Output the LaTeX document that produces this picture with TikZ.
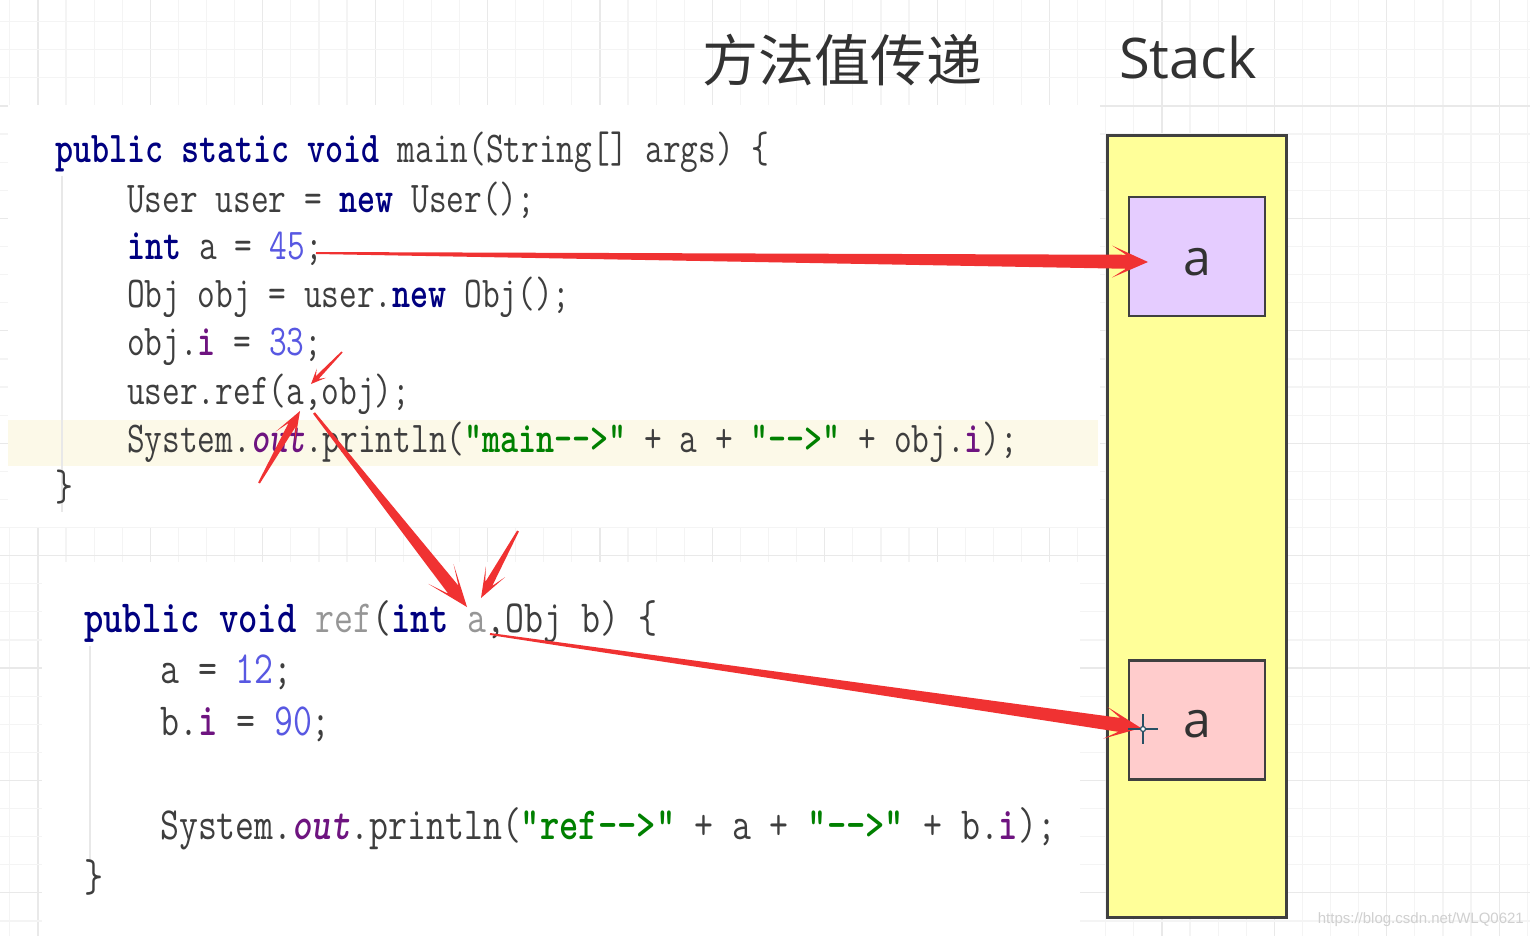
\documentclass[tikz,border=0pt]{standalone}
\usepackage{fontspec}
\usepackage{graphicx}
\usetikzlibrary{calc}
\newfontfamily\cjk{Noto Sans CJK SC}
\newfontfamily\osans{Open Sans}
\newfontfamily\lsans{Liberation Sans}
\definecolor{gridminor}{RGB}{244,244,244}
\definecolor{gridmajor}{RGB}{233,233,233}
\definecolor{plainc}{RGB}{62,62,62}
\definecolor{kwc}{RGB}{0,0,128}
\definecolor{numc}{RGB}{88,88,226}
\definecolor{strc}{RGB}{0,128,0}
\definecolor{fldc}{RGB}{110,20,128}
\definecolor{grc}{RGB}{150,150,150}
\definecolor{hlc}{RGB}{252,249,232}
\definecolor{guidec}{RGB}{232,232,232}
\definecolor{titlec}{RGB}{50,50,50}
\definecolor{stackfill}{RGB}{255,255,153}
\definecolor{boxborder}{RGB}{64,64,64}
\definecolor{purplebox}{RGB}{229,204,255}
\definecolor{pinkbox}{RGB}{255,204,204}
\definecolor{arrowred}{RGB}{240,50,50}
\definecolor{wmc}{RGB}{208,208,208}
\definecolor{cursorc}{RGB}{40,80,100}
\newcommand\kw[1]{\textcolor{kwc}{\bfseries #1}}
\newcommand\cn[1]{\textcolor{numc}{#1}}
\newcommand\cs[1]{\textcolor{strc}{\bfseries #1}}
\newcommand\cf[1]{\textcolor{fldc}{\bfseries #1}}
\newcommand\co[1]{\textcolor{fldc}{\bfseries\itshape #1}}
\newcommand\cg[1]{\textcolor{grc}{#1}}
\newcommand\ca[1]{\scalebox{0.781}[1]{#1}}
\newcommand\cb[1]{\scalebox{0.799}[1]{#1}}
\newcommand\redarrow[7]{%
  \coordinate (ja) at ($(#2)!#5!(#1)$);
  \coordinate (wa) at ($(#2)!#6!(#1)$);
  \fill[arrowred] ($(#1)!#3!90:(#2)$) -- ($(ja)!#4!90:(#2)$) -- ($(wa)!#7!90:(#2)$) -- (#2)
    -- ($(wa)!#7!-90:(#2)$) -- ($(ja)!#4!-90:(#2)$) -- ($(#1)!#3!-90:(#2)$) -- cycle;
}
\tikzset{
  codeA/.style={anchor=base west, inner sep=0pt, text=plainc, font=\ttfamily\fontsize{44}{48}\selectfont},
  codeB/.style={anchor=base west, inner sep=0pt, text=plainc, font=\ttfamily\fontsize{46}{50}\selectfont},
  slot/.style={draw=boxborder, line width=2.5pt, minimum width=136pt, minimum height=119pt, inner sep=0pt},
  slotlabel/.style={font=\osans\fontsize{50}{54}\selectfont, text=titlec, inner sep=0pt},
}
\begin{document}
\begin{tikzpicture}[x=1pt,y=-1pt]
\useasboundingbox (0,0) rectangle (1530,936);
\fill[white] (0,0) rectangle (1530,936);
% grid
\foreach \i in {0,...,54} {
  \pgfmathtruncatemacro\m{mod(\i,4)}
  \ifnum\m=1 \def\gc{gridmajor}\else\def\gc{gridminor}\fi
  \draw[\gc, line width=1.2pt] ({9.8+28.1*\i},0) -- ({9.8+28.1*\i},936);
}
\foreach \j in {0,...,33} {
  \pgfmathtruncatemacro\m{mod(\j,4)}
  \ifnum\m=3 \def\gc{gridmajor}\else\def\gc{gridminor}\fi
  \draw[\gc, line width=1.2pt] (0,{21.7+28.1*\j}) -- (1530,{21.7+28.1*\j});
}
% code panels
\fill[white] (8,105) rectangle (1100,527);
\fill[white] (42,562) rectangle (1080,936);
\fill[hlc] (8,420) rectangle (1098,466);
\draw[guidec, line width=1.5pt] (62,176) -- (62,512);
\draw[guidec, line width=1.5pt] (90,646) -- (90,862);
% title
\node[font=\cjk\fontsize{56}{60}\selectfont, text=titlec, inner sep=0pt] (title) at (842,60) {方法值传递};
\node[font=\osans\fontsize{56}{60}\selectfont, text=titlec, inner sep=0pt] (stacklbl) at (1188,58) {Stack};
% main code
\node[codeA] (l1) at (55,163) {\ca{\kw{public static void} main(String[] args) \{}};
\node[codeA] (l2) at (127,212) {\ca{User user = \kw{new} User();}};
\node[codeA] (l3) at (127,259) {\ca{\kw{int} a = \cn{45};}};
\node[codeA] (l4) at (127,307) {\ca{Obj obj = user.\kw{new} Obj();}};
\node[codeA] (l5) at (127,355) {\ca{obj.\cf{i} = \cn{33};}};
\node[codeA] (l6) at (127,404) {\ca{user.ref(a,obj);}};
\node[codeA] (l7) at (127,452) {\ca{System.\co{out}.println(\cs{"main-\kern0pt-\kern0pt>"} + a + \cs{"-\kern0pt-\kern0pt>"} + obj.\cf{i});}};
\node[codeA] (l8) at (55,500) {\ca{\}}};
% ref code
\node[codeB] (b1) at (84,632) {\cb{\kw{public void} \cg{ref}(\kw{int} \cg{a},Obj b) \{}};
\node[codeB] (b2) at (160,683) {\cb{a = \cn{12};}};
\node[codeB] (b3) at (160,735) {\cb{b.\cf{i} = \cn{90};}};
\node[codeB] (b5) at (160,839) {\cb{System.\co{out}.println(\cs{"ref-\kern0pt-\kern0pt>"} + a + \cs{"-\kern0pt-\kern0pt>"} + b.\cf{i});}};
\node[codeB] (b6) at (84,891) {\cb{\}}};
% stack
\node[draw=boxborder, fill=stackfill, line width=3pt, minimum width=179pt, minimum height=781pt, inner sep=0pt] (stack) at (1196.5,526.5) {};
\node[slot, fill=purplebox] (slotA) at (1197,256.5) {};
\node[slotlabel] (slotAlbl) at (1197,262) {a};
\node[slot, fill=pinkbox] (slotB) at (1197,720) {};
\node[slotlabel] (slotBlbl) at (1197,724) {a};
% watermark
\node[font=\lsans\fontsize{15}{16}\selectfont, text=wmc, anchor=base east, inner sep=0pt] (wm) at (1524,923) {https://blog.csdn.net/WLQ0621};
% arrows
\coordinate (a1s) at (316,253); \coordinate (a1e) at (1148,262);
\coordinate (a2s) at (342,352); \coordinate (a2e) at (311,384);
\coordinate (a3s) at (259,483); \coordinate (a3e) at (300,411);
\coordinate (a4s) at (314,413); \coordinate (a4e) at (467,607);
\coordinate (a5s) at (518,531); \coordinate (a5e) at (481,598);
\coordinate (a6s) at (490,634); \coordinate (a6e) at (1141,728);
\redarrow{a1s}{a1e}{1pt}{7pt}{22pt}{36pt}{16pt}
\redarrow{a2s}{a2e}{0.8pt}{2pt}{9pt}{15pt}{6.5pt}
\redarrow{a3s}{a3e}{1pt}{4pt}{16pt}{30pt}{11pt}
\redarrow{a4s}{a4e}{1.2pt}{6.5pt}{22pt}{42pt}{16pt}
\redarrow{a5s}{a5e}{1pt}{4pt}{16pt}{30pt}{11pt}
\redarrow{a6s}{a6e}{1pt}{7pt}{22pt}{36pt}{16pt}
% cursor
\draw[cursorc, line width=1.5pt] (1128,729) -- (1158,729);
\draw[cursorc, line width=1.5pt] (1143,714) -- (1143,744);
\draw[cursorc, line width=1.2pt, fill=white] (1143,729) circle (2.5pt);
\end{tikzpicture}
\end{document}
